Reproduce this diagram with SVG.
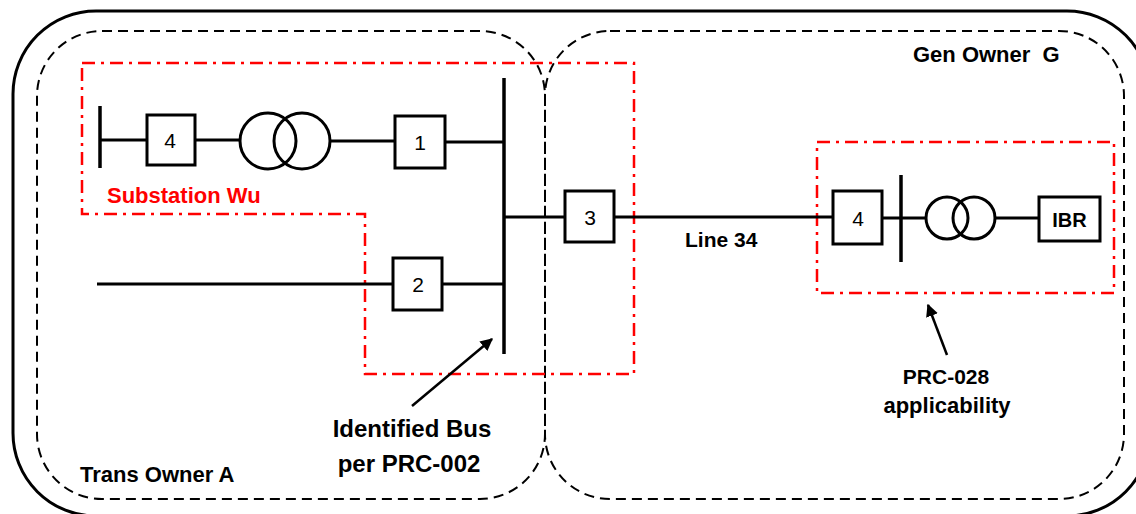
<svg xmlns="http://www.w3.org/2000/svg" width="1136" height="514" viewBox="0 0 1136 514">
<style>
.outer{fill:none;stroke:#000;stroke-width:3}
.owner{fill:none;stroke:#000;stroke-width:2;stroke-dasharray:10 6}
.zone{fill:none;stroke:#FF0000;stroke-width:2.5;stroke-dasharray:13 6 3 6}
.w{stroke:#000;stroke-width:3;fill:none}
.bus{stroke:#000;stroke-width:3.5;fill:none}
.box{fill:#fff;stroke:#000;stroke-width:3}
.num{font-family:"Liberation Sans",Arial,sans-serif;font-size:21px;fill:#000;text-anchor:middle}
.lbl{font-family:"Liberation Sans",Arial,sans-serif;font-weight:bold;fill:#000}
.arr{stroke:#000;stroke-width:2.5;fill:none}
</style>
<defs>
<marker id="ah" viewBox="0 0 10 10" refX="9" refY="5" markerWidth="5" markerHeight="5" orient="auto" markerUnits="strokeWidth">
<path d="M0,0 L10,5 L0,10 z" fill="#000"/>
</marker>
</defs>
<rect width="1136" height="514" fill="#fff"/>
<g id="outer-boundary">
<rect class="outer" x="13" y="11" width="1137" height="505" rx="83" ry="83"/>
</g>
<g id="trans-owner-a">
<rect class="owner" x="37" y="31" width="508" height="468" rx="65" ry="65"/>
<text class="lbl" x="80" y="482" font-size="22">Trans Owner A</text>
</g>
<g id="gen-owner-g">
<rect class="owner" x="545" y="31" width="579" height="468" rx="65" ry="65"/>
<text class="lbl" x="913" y="62" font-size="22" xml:space="preserve">Gen Owner  G</text>
</g>
<g id="substation-wu">
<polygon class="zone" points="82,63 634,63 634,374 365,374 365,214 82,214"/>
<text class="lbl" x="107" y="203" font-size="22" style="fill:#FF0000">Substation Wu</text>
</g>
<g id="prc-028-zone">
<rect class="zone" x="817" y="142" width="297" height="151"/>
</g>
<g id="connectors">
<line class="w" x1="100" y1="140" x2="147" y2="140"/>
<line class="w" x1="195" y1="140" x2="240" y2="140"/>
<line class="w" x1="330" y1="141" x2="395" y2="141"/>
<line class="w" x1="445" y1="142" x2="504" y2="142"/>
<line class="w" x1="97" y1="284" x2="393" y2="284"/>
<line class="w" x1="442" y1="284" x2="504" y2="284"/>
<line class="w" x1="504" y1="217" x2="565" y2="217"/>
<line class="w" x1="614" y1="217" x2="833" y2="217"/>
<line class="w" x1="882" y1="218" x2="926" y2="218"/>
<line class="w" x1="995" y1="218" x2="1039" y2="218"/>
<line class="arr" x1="412" y1="406" x2="492" y2="339" marker-end="url(#ah)"/>
<line class="arr" x1="947" y1="355" x2="928" y2="305" marker-end="url(#ah)"/>
</g>
<g id="bus-left-end">
<line class="bus" x1="100" y1="106" x2="100" y2="168"/>
</g>
<g id="breaker-4-left">
<rect class="box" x="147" y="115" width="48" height="50"/>
<text class="num" x="170" y="148">4</text>
</g>
<g id="transformer-left">
<circle class="w" cx="268" cy="141" r="28"/>
<circle class="w" cx="302" cy="141" r="28"/>
</g>
<g id="breaker-1">
<rect class="box" x="395" y="116" width="50" height="52"/>
<text class="num" x="420" y="150">1</text>
</g>
<g id="breaker-2">
<rect class="box" x="393" y="258" width="49" height="52"/>
<text class="num" x="418" y="292">2</text>
</g>
<g id="identified-bus">
<line class="bus" x1="504" y1="78" x2="504" y2="354"/>
<text class="lbl" x="412" y="437" font-size="24" text-anchor="middle">Identified Bus</text>
<text class="lbl" x="409" y="472" font-size="24" text-anchor="middle">per PRC-002</text>
</g>
<g id="breaker-3">
<rect class="box" x="565" y="191" width="49" height="51"/>
<text class="num" x="590" y="225">3</text>
</g>
<g id="line-34-label">
<text class="lbl" x="685" y="247" font-size="21">Line 34</text>
</g>
<g id="breaker-4-right">
<rect class="box" x="833" y="191" width="49" height="53"/>
<text class="num" x="858" y="226">4</text>
</g>
<g id="bus-right">
<line class="bus" x1="901" y1="175" x2="901" y2="262"/>
</g>
<g id="transformer-right">
<circle class="w" cx="947" cy="218" r="21"/>
<circle class="w" cx="974" cy="218" r="21"/>
</g>
<g id="ibr">
<rect class="box" x="1039" y="197" width="61" height="44"/>
<text class="lbl" x="1069.5" y="227" font-size="20" text-anchor="middle">IBR</text>
</g>
<g id="prc-028-label">
<text class="lbl" x="946" y="384" font-size="21" text-anchor="middle">PRC-028</text>
<text class="lbl" x="947" y="413" font-size="22" text-anchor="middle">applicability</text>
</g>
</svg>
